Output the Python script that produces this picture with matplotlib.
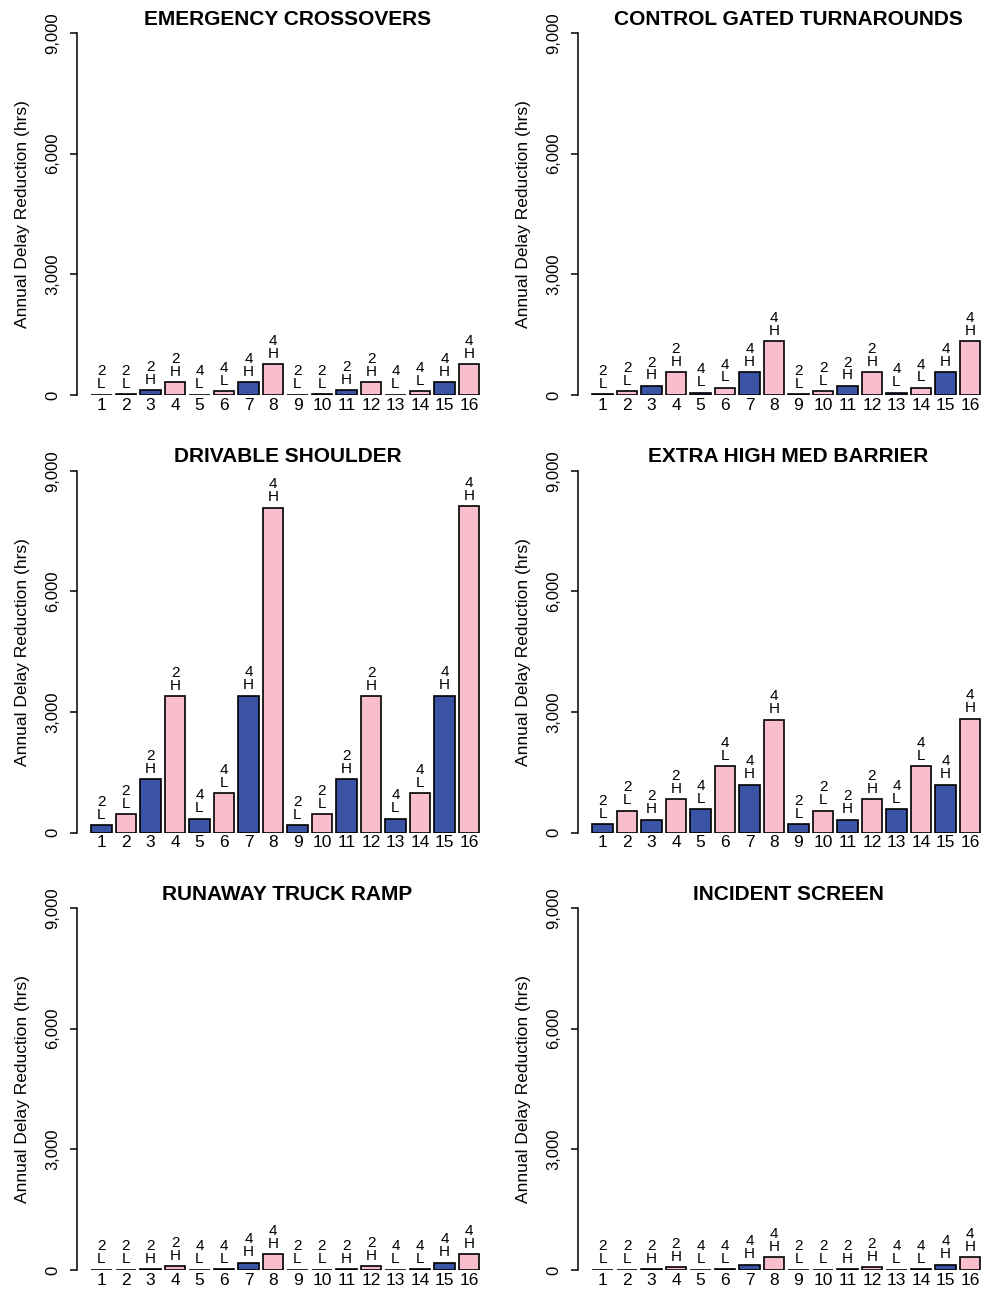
import matplotlib
matplotlib.use("Agg")
import matplotlib.pyplot as plt
import numpy as np

plt.rcParams['font.family'] = ['Liberation Sans', 'DejaVu Sans']

# scenario number under each bar, and the lane / volume codes printed above it
bar_ids = list(range(1, 17))
lanes = ['2', '2', '2', '2', '4', '4', '4', '4'] * 2
volume = ['L', 'L', 'H', 'H', 'L', 'L', 'H', 'H'] * 2

titles = ['EMERGENCY CROSSOVERS', 'CONTROL GATED TURNAROUNDS',
          'DRIVABLE SHOULDER', 'EXTRA HIGH MED BARRIER',
          'RUNAWAY TRUCK RAMP', 'INCIDENT SCREEN']

# annual delay reduction (hrs)
emergency = [10, 20, 117, 316, 10, 92, 316, 763, 10, 20, 117, 316, 10, 92, 316, 763]
control_gated = [15, 90, 225, 570, 55, 175, 570, 1340, 15, 90, 225, 570, 55, 175, 570, 1340]
drivable = [182, 463, 1330, 3390, 347, 975, 3410, 8080, 182, 463, 1330, 3390, 347, 975, 3410, 8120]
med_barrier = [207, 545, 322, 826, 580, 1650, 1190, 2810, 207, 545, 322, 826, 580, 1650, 1190, 2830]
runaway = [5, 10, 25, 92, 8, 25, 180, 390, 5, 10, 25, 92, 8, 25, 180, 390]
incident = [5, 8, 20, 75, 6, 20, 130, 315, 5, 8, 20, 75, 6, 20, 130, 315]

panel_data = [emergency, control_gated, drivable, med_barrier, runaway, incident]

blue = '#3A53A4'
pink = '#F9BECB'
colors = [blue if i % 2 == 1 else pink for i in bar_ids]

W, H = 984, 1289
fig = plt.figure(figsize=(W / 100, H / 100), dpi=100)

col_left = [77, 578]
row_base = [395, 832.7, 1270]
ax_w, ax_h = 421, 362

for k, (title, vals) in enumerate(zip(titles, panel_data)):
    r, c = divmod(k, 2)
    ax = fig.add_axes([col_left[c] / W, 1 - row_base[r] / H, ax_w / W, ax_h / H])
    x = np.array(bar_ids)
    ax.bar(x, vals, width=0.85, color=colors, edgecolor='black', linewidth=1.2)
    for xi, v, ln, vo in zip(x, vals, lanes, volume):
        ax.annotate(ln + '\n' + vo, (xi, v), xytext=(0, 2.5), textcoords='offset points',
                    ha='center', va='bottom', fontsize=11, linespacing=0.9)
    ax.set_xlim(0, ax_w / 24.5)
    ax.set_ylim(0, 9000)
    for s in ['top', 'right', 'bottom']:
        ax.spines[s].set_visible(False)
    ax.spines['left'].set_linewidth(1.1)
    ax.set_yticks([0, 3000, 6000, 9000])
    ax.set_yticklabels(['0', '3,000', '6,000', '9,000'], rotation=90, va='center', fontsize=12)
    ax.tick_params(axis='y', length=5, width=1.1, pad=7)
    ax.set_xticks(x)
    ax.set_xticklabels([str(i) for i in bar_ids], fontsize=12.5)
    ax.tick_params(axis='x', length=0, pad=2)
    ax.set_ylabel('Annual Delay Reduction (hrs)', fontsize=12.5)
    ax.yaxis.set_label_coords(-0.112, 0.5)
    ax.set_title(title, fontsize=15, fontweight='bold', pad=6)
    ax.set_facecolor('none')

fig.savefig('out.png', dpi=100, facecolor='white')
